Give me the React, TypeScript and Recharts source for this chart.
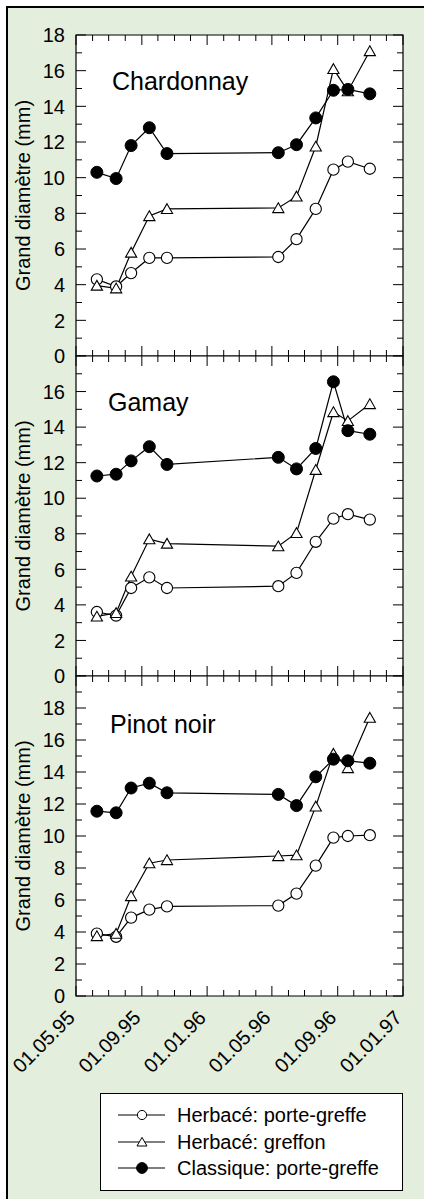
import { LineChart, Line, XAxis, YAxis, CartesianGrid, ReferenceArea, Legend } from "recharts";

const FONT = "'Liberation Sans', Arial, sans-serif";
const PLOT_LEFT = 76;
const PLOT_RIGHT = 403;
const PAGE_W = 424;
const PAGE_H = 1199;

// dates de prélèvement
const sampleDates = [
  "1995-06-09", "1995-07-15", "1995-08-12", "1995-09-15", "1995-10-18",
  "1996-05-13", "1996-06-16", "1996-07-22", "1996-08-24", "1996-09-20", "1996-10-31",
];

// Chardonnay
const chardonnayHerbPorteGreffe = [4.3, 3.9, 4.65, 5.5, 5.5, 5.55, 6.55, 8.25, 10.45, 10.9, 10.5];
const chardonnayHerbGreffon = [3.95, 3.8, 5.8, 7.85, 8.25, 8.3, 8.95, 11.75, 16.1, 14.85, 17.1];
const chardonnayClassique = [10.3, 9.95, 11.8, 12.8, 11.35, 11.4, 11.85, 13.35, 14.9, 14.95, 14.7];

// Gamay
const gamayHerbPorteGreffe = [3.6, 3.4, 4.95, 5.55, 4.95, 5.05, 5.8, 7.55, 8.85, 9.1, 8.8];
const gamayHerbGreffon = [3.35, 3.55, 5.6, 7.7, 7.45, 7.3, 8.05, 11.6, 14.85, 14.35, 15.3];
const gamayClassique = [11.25, 11.35, 12.1, 12.9, 11.9, 12.3, 11.65, 12.8, 16.55, 13.8, 13.6];

// Pinot noir
const pinotHerbPorteGreffe = [3.9, 3.7, 4.9, 5.4, 5.6, 5.65, 6.4, 8.15, 9.9, 10.0, 10.05];
const pinotHerbGreffon = [3.75, 3.9, 6.25, 8.3, 8.5, 8.75, 8.8, 11.85, 15.15, 14.25, 17.4];
const pinotClassique = [11.55, 11.45, 13.0, 13.3, 12.7, 12.6, 11.9, 13.7, 14.8, 14.7, 14.55];

// ticks mensuels, un grand tick tous les 4 mois
const monthTicks = [
  "1995-05-01", "1995-06-01", "1995-07-01", "1995-08-01", "1995-09-01", "1995-10-01", "1995-11-01",
  "1995-12-01", "1996-01-01", "1996-02-01", "1996-03-01", "1996-04-01", "1996-05-01", "1996-06-01",
  "1996-07-01", "1996-08-01", "1996-09-01", "1996-10-01", "1996-11-01", "1996-12-01", "1997-01-01",
];
const majorLabels = ["01.05.95", "01.09.95", "01.01.96", "01.05.96", "01.09.96", "01.01.97"];

const yTicks18 = [0, 1, 2, 3, 4, 5, 6, 7, 8, 9, 10, 11, 12, 13, 14, 15, 16, 17, 18];
const yTicks20 = [...yTicks18, 19, 20];

const seriesNames = ["Herbacé: porte-greffe", "Herbacé: greffon", "Classique: porte-greffe"];

const xTickValues = monthTicks.map((d) => Date.parse(d));

const buildData = (hp: number[], hg: number[], cp: number[]) =>
  sampleDates.map((d, i) => ({ t: Date.parse(d), hp: hp[i], hg: hg[i], cp: cp[i] }));

const panels = [
  {
    name: "Chardonnay", data: buildData(chardonnayHerbPorteGreffe, chardonnayHerbGreffon, chardonnayClassique),
    top: 35, bottom: 356, yTicks: yTicks18, labelMax: 18, titleX: 112, titleY: 89.5,
  },
  {
    name: "Gamay", data: buildData(gamayHerbPorteGreffe, gamayHerbGreffon, gamayClassique),
    top: 356, bottom: 676, yTicks: yTicks18, labelMax: 16, titleX: 108, titleY: 411,
  },
  {
    name: "Pinot noir", data: buildData(pinotHerbPorteGreffe, pinotHerbGreffon, pinotClassique),
    top: 676, bottom: 996, yTicks: yTicks20, labelMax: 18, titleX: 110, titleY: 733,
  },
];

const TriangleDot = (props: any) => {
  const { cx, cy, index } = props;
  if (cx == null || cy == null) return null;
  return (
    <polygon
      key={`tri-${index}`}
      points={`${cx},${cy - 5.2} ${cx + 5.6},${cy + 4.6} ${cx - 5.6},${cy + 4.6}`}
      fill="#fff"
      stroke="#000"
      strokeWidth={1.1}
    />
  );
};

const renderYTick = (labelMax: number) => (props: any) => {
  const { y, payload } = props;
  const v = payload.value;
  const major = v % 2 === 0;
  const len = major ? 10 : 6;
  return (
    <g>
      <line x1={PLOT_LEFT} x2={PLOT_LEFT + len} y1={y} y2={y} stroke="#000" />
      <line x1={PLOT_RIGHT - len} x2={PLOT_RIGHT} y1={y} y2={y} stroke="#000" />
      {major && v <= labelMax && (
        <text x={65} y={y} dy="0.36em" textAnchor="end" fontSize={20} fontFamily={FONT} fill="#000">
          {v}
        </text>
      )}
    </g>
  );
};

const renderXTick = (top: number, bottom: number, showLabels: boolean) => (props: any) => {
  const { x, payload } = props;
  const i = xTickValues.indexOf(payload.value);
  const major = i % 4 === 0;
  const len = major ? 10 : 6;
  const lx = x;
  const ly = bottom + 23;
  return (
    <g>
      <line x1={x} x2={x} y1={bottom} y2={bottom - len} stroke="#000" />
      <line x1={x} x2={x} y1={top} y2={top + len} stroke="#000" />
      {showLabels && major && (
        <text
          x={lx}
          y={ly}
          textAnchor="end"
          fontSize={20}
          fontFamily={FONT}
          fill="#000"
          transform={`rotate(-45, ${lx}, ${ly})`}
        >
          {majorLabels[i / 4]}
        </text>
      )}
    </g>
  );
};

const LegendMarker = ({ kind }: { kind: number }) => {
  const cx = 24;
  const cy = 8;
  return (
    <svg width={50} height={16} style={{ display: "block" }}>
      <line x1={0} x2={47} y1={cy} y2={cy} stroke="#000" strokeWidth={1.2} />
      {kind === 0 && <circle cx={cx} cy={cy} r={4.6} fill="#fff" stroke="#000" />}
      {kind === 1 && (
        <polygon points={`${cx},${cy - 4.6} ${cx + 5},${cy + 4} ${cx - 5},${cy + 4}`} fill="#fff" stroke="#000" />
      )}
      {kind === 2 && <circle cx={cx} cy={cy} r={5.4} fill="#000" stroke="#000" />}
    </svg>
  );
};

const LegendBox = () => (
  <div
    style={{
      width: 303,
      height: 98,
      boxSizing: "border-box",
      border: "1px solid #000",
      background: "#fff",
      paddingTop: 8,
      fontFamily: FONT,
      fontSize: 20,
      color: "#000",
    }}
  >
    {seriesNames.map((name, k) => (
      <div key={name} style={{ display: "flex", alignItems: "center", height: 26.5 }}>
        <div style={{ marginLeft: 17, width: 59 }}>
          <LegendMarker kind={k} />
        </div>
        <span style={{ lineHeight: "22px" }}>{name}</span>
      </div>
    ))}
  </div>
);

export default function App() {
  return (
    <div
      style={{
        position: "absolute",
        left: 0,
        top: 0,
        width: PAGE_W,
        height: PAGE_H,
        overflow: "hidden",
        background: "#fff",
      }}
    >
      <div
        style={{
          position: "absolute",
          left: 6,
          top: 6,
          width: 440,
          height: 1230,
          border: "2px solid #000",
          background: "#e3eedc",
        }}
      />
      {panels.map((p, pi) => {
        const last = pi === panels.length - 1;
        return (
          <div key={p.name} style={{ position: "absolute", left: 0, top: 0 }}>
            <LineChart
              width={PAGE_W}
              height={PAGE_H}
              data={p.data}
              margin={{ top: p.top, bottom: PAGE_H - p.bottom - 1, left: PLOT_LEFT - 1, right: PAGE_W - PLOT_RIGHT }}
            >
              <CartesianGrid horizontal={false} vertical={false} fill="#fff" />
              <ReferenceArea
                x1={xTickValues[0]}
                x2={xTickValues[xTickValues.length - 1]}
                y1={0}
                y2={p.yTicks[p.yTicks.length - 1]}
                fill="none"
                stroke="#000"
                strokeWidth={1.2}
              />
              <XAxis
                type="number"
                dataKey="t"
                domain={[xTickValues[0], xTickValues[xTickValues.length - 1]]}
                ticks={xTickValues}
                interval={0}
                height={1}
                axisLine={false}
                tickLine={false}
                tick={renderXTick(p.top, p.bottom, last)}
              />
              <YAxis
                type="number"
                domain={[0, p.yTicks[p.yTicks.length - 1]]}
                ticks={p.yTicks}
                interval={0}
                width={1}
                axisLine={false}
                tickLine={false}
                tick={renderYTick(p.labelMax)}
              />
              <text x={p.titleX} y={p.titleY} fontSize={25} fontFamily={FONT} fill="#000">
                {p.name}
              </text>
              <text
                x={29.5}
                y={(p.top + p.bottom) / 2}
                textAnchor="middle"
                fontSize={20}
                fontFamily={FONT}
                fill="#000"
                transform={`rotate(-90, 29.5, ${(p.top + p.bottom) / 2})`}
              >
                Grand diamètre (mm)
              </text>
              <Line
                type="linear"
                dataKey="hp"
                name={seriesNames[0]}
                stroke="#000"
                strokeWidth={1.2}
                dot={{ r: 5.6, fill: "#fff", stroke: "#000", strokeWidth: 1.1 }}
                activeDot={false}
                isAnimationActive={false}
              />
              <Line
                type="linear"
                dataKey="hg"
                name={seriesNames[1]}
                stroke="#000"
                strokeWidth={1.2}
                dot={TriangleDot}
                activeDot={false}
                isAnimationActive={false}
              />
              <Line
                type="linear"
                dataKey="cp"
                name={seriesNames[2]}
                stroke="#000"
                strokeWidth={1.2}
                dot={{ r: 6, fill: "#000", stroke: "#000", strokeWidth: 1 }}
                activeDot={false}
                isAnimationActive={false}
              />
              {last && (
                <Legend
                  layout="horizontal"
                  verticalAlign="middle"
                  align="center"
                  wrapperStyle={{ left: 100, top: 1093, width: 303, height: 98 }}
                  content={() => <LegendBox />}
                />
              )}
            </LineChart>
          </div>
        );
      })}
    </div>
  );
}
